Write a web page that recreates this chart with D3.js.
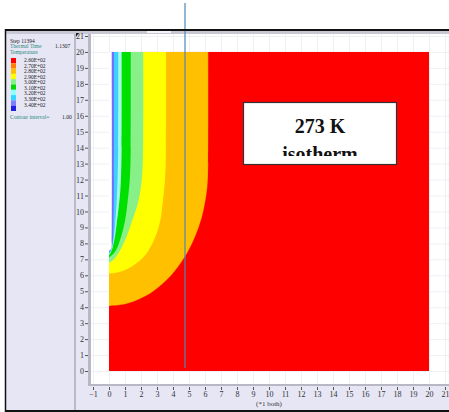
<!DOCTYPE html>
<html>
<head>
<meta charset="utf-8">
<script src="https://cdn.jsdelivr.net/npm/d3@7"></script>
<style>
  html, body { margin: 0; padding: 0; background: #fff; }
  svg { display: block; }
</style>
</head>
<body>
<svg id="chart" width="449" height="412"></svg>
<script>
// ---- data -------------------------------------------------------------
const xTicks = d3.range(-1, 22);          // -1 .. 21
const yTicks = d3.range(0, 22);           // 0 .. 21
const legendLevels = ["2.60E+02", "2.70E+02", "2.80E+02", "2.90E+02", "3.00E+02",
                      "3.10E+02", "3.20E+02", "3.30E+02", "3.40E+02"];
const legendColors = ["#ff0000", "#ff8000", "#ffc000", "#ffff00", "#88f088",
                      "#00d800", "#90ffff", "#30d8ff", "#8080ff", "#2020e0"];
const domainBox = { x0: 0, x1: 20, y0: 0, y1: 20 };
// band fills, outermost (coldest) to innermost
const bandColors = ["#ff0000", "#ffc000", "#ffff00", "#88f088", "#00e000",
                    "#a8ffe8", "#40d0ff", "#7070ff", "#ffffff"];
// isotherm boundaries, each from the top edge down to the left edge (x, y)
const isoRed = [[6.2,20],[6.2,13],[6.14,11.5],[5.89,10],[5.6,9],[5.19,8],[4.64,7],[3.89,6],[2.77,5],[1.87,4.5],[1.03,4.2],[0,4.08]];
const isoAmber = [[3.56,20],[3.56,14],[3.5,12],[3.35,10.5],[3.2,9.4],[2.85,8.3],[2.3,7.3],[1.5,6.6],[0.7,6.22],[0,6.1]];
const isoYellow = [[2.14,20],[2.14,15],[2.05,12],[1.8,10.5],[1.44,9.4],[1.05,8.3],[0.6,7.4],[0.25,6.95],[0,6.8]];
const isoLightGreen = [[1.36,20],[1.36,14],[1.3,12],[1.15,10.5],[1.0,9.4],[0.75,8.4],[0.4,7.5],[0,7.1]];
const isoGreen = [[0.79,20],[0.79,14],[0.72,11.5],[0.6,10.2],[0.5,9.4],[0.35,8.3],[0.15,7.5],[0,7.25]];
const isoPale = [[0.58,20],[0.58,14],[0.5,11],[0.4,9.4],[0.28,8.2],[0.12,7.5],[0,7.35]];
const isoCyan = [[0.31,20],[0.31,12],[0.28,9.4],[0.22,8],[0.1,7.55],[0,7.45]];
const isoBlue = [[0.17,20],[0.17,8],[0.15,7.68],[0.06,7.57],[0,7.55]];
const isotherms = [isoRed, isoAmber, isoYellow, isoLightGreen, isoGreen, isoPale, isoCyan, isoBlue];
const profileX = 4.75;   // vertical profile line position

// ---- scales -----------------------------------------------------------
const x = d3.scaleLinear().domain([-1, 21]).range([93, 445]);
const y = d3.scaleLinear().domain([0, 21]).range([371, 36]);

const svg = d3.select("#chart");
const serif = "'Liberation Serif', 'DejaVu Serif', serif";

// ---- frame ------------------------------------------------------------
svg.append("rect").attr("x", 6).attr("y", 30).attr("width", 443).attr("height", 381)
  .attr("fill", "#e6e6f4");
svg.append("rect").attr("x", 90).attr("y", 34).attr("width", 359).attr("height", 351)
  .attr("fill", "#ffffff");
// faint grid
const grid = svg.append("g").attr("stroke", "#eef0f4").attr("stroke-width", 1);
grid.selectAll("line.h").data(yTicks).join("line")
  .attr("x1", 91).attr("x2", 449).attr("y1", d => y(d) + 0.5).attr("y2", d => y(d) + 0.5);
grid.selectAll("line.v").data(xTicks).join("line")
  .attr("y1", 34).attr("y2", 385).attr("x1", d => x(d) + 0.5).attr("x2", d => x(d) + 0.5);

// ---- contour bands ----------------------------------------------------
const plot = svg.append("g");
plot.append("rect")
  .attr("x", x(domainBox.x0)).attr("y", y(domainBox.y1))
  .attr("width", x(domainBox.x1) - x(domainBox.x0))
  .attr("height", y(domainBox.y0) - y(domainBox.y1))
  .attr("fill", bandColors[0]);
const iso = d3.line().x(d => x(d[0])).y(d => y(d[1])).curve(d3.curveCatmullRom.alpha(0.5));
plot.selectAll("path.band").data(isotherms).join("path")
  .attr("class", "band")
  .attr("d", d => iso(d) + `L${x(0)},${y(20)}Z`)
  .attr("fill", (d, i) => bandColors[i + 1]);
// soft edge on the outer isotherm
plot.append("path").attr("d", iso(isoRed)).attr("fill", "none")
  .attr("stroke", "#e84000").attr("stroke-width", 0.7).attr("opacity", 0.35);

// ---- axes -------------------------------------------------------------
svg.append("line").attr("x1", 75).attr("x2", 75).attr("y1", 30).attr("y2", 411)
  .attr("stroke", "#8c8c9c").attr("stroke-width", 1);
svg.append("rect").attr("x", 88).attr("y", 34).attr("width", 3).attr("height", 352)
  .attr("fill", "#b8b8c4");
svg.append("rect").attr("x", 88).attr("y", 384).attr("width", 361).attr("height", 2)
  .attr("fill", "#b8b8c4");
svg.append("rect").attr("x", 6).attr("y", 31).attr("width", 443).attr("height", 3)
  .attr("fill", "#c8c8d4");
svg.append("rect").attr("x", 147).attr("y", 31).attr("width", 24).attr("height", 2)
  .attr("fill", "#f4f4f8");

const yAxis = svg.append("g").attr("transform", "translate(88,0)")
  .call(d3.axisLeft(y).tickValues(yTicks).tickSize(3).tickPadding(1).tickFormat(d3.format("d")));
const xAxis = svg.append("g").attr("transform", "translate(0,387)")
  .call(d3.axisBottom(x).tickValues(xTicks).tickSize(3).tickPadding(1).tickFormat(d3.format("d")));
[yAxis, xAxis].forEach(a => {
  a.select(".domain").remove();
  a.selectAll(".tick line").attr("stroke", "#555");
  a.selectAll(".tick text").attr("fill", "#333").attr("font-family", serif).attr("font-size", 8);
});
svg.append("text").attr("x", x(10)).attr("y", 406).attr("text-anchor", "middle")
  .attr("font-family", serif).attr("font-size", 7).attr("fill", "#333").text("(*1 both)");

// ---- profile line -----------------------------------------------------
svg.append("line").attr("x1", x(profileX)).attr("x2", x(profileX))
  .attr("y1", 3).attr("y2", y(0) - 3)
  .attr("stroke", "#4f86b8").attr("stroke-width", 1.2);

// ---- outer border -----------------------------------------------------
svg.append("line").attr("x1", 5).attr("x2", 449).attr("y1", 30).attr("y2", 30)
  .attr("stroke", "#111").attr("stroke-width", 2);
svg.append("line").attr("x1", 5.5).attr("x2", 5.5).attr("y1", 29).attr("y2", 412)
  .attr("stroke", "#111").attr("stroke-width", 1.5);
svg.append("line").attr("x1", 5).attr("x2", 449).attr("y1", 411).attr("y2", 411)
  .attr("stroke", "#111").attr("stroke-width", 2);

// ---- legend -----------------------------------------------------------
const lg = svg.append("g").attr("font-family", serif).attr("font-size", 5.5);
lg.append("text").attr("x", 10).attr("y", 43).attr("fill", "#222").text("Step 11394");
lg.append("text").attr("x", 10).attr("y", 48).attr("fill", "#2a8a7a").text("Thermal Time");
lg.append("text").attr("x", 55).attr("y", 48).attr("fill", "#222").text("1.1307");
lg.append("text").attr("x", 10).attr("y", 54).attr("fill", "#2a8a7a").text("Temperature");
const swH = 5.3;
lg.selectAll("rect.sw").data(legendColors).join("rect")
  .attr("x", 11).attr("y", (d, i) => 58 + i * swH).attr("width", 5).attr("height", swH)
  .attr("fill", d => d);
lg.selectAll("text.lv").data(legendLevels).join("text")
  .attr("x", 24).attr("y", (d, i) => 62 + i * swH * 1.05).attr("fill", "#222").text(d => d);
lg.append("text").attr("x", 10).attr("y", 119).attr("fill", "#2a8a7a").text("Contour interval=");
lg.append("text").attr("x", 62).attr("y", 119).attr("fill", "#222").text("1.00");
// corner marker by the y axis
svg.append("path").attr("d", "M76,33 L79,33 L76,37 Z").attr("fill", "#222");

// ---- annotation box ---------------------------------------------------
const clip = svg.append("defs").append("clipPath").attr("id", "boxclip");
clip.append("rect").attr("x", 243).attr("y", 102).attr("width", 154).attr("height", 54);
svg.append("rect").attr("x", 243.5).attr("y", 102.5).attr("width", 153).attr("height", 62)
  .attr("fill", "#fff").attr("stroke", "#333").attr("stroke-width", 1.2);
const ann = svg.append("g").attr("clip-path", "url(#boxclip)")
  .attr("font-family", serif).attr("font-weight", "bold").attr("font-size", 20)
  .attr("text-anchor", "middle").attr("fill", "#111");
ann.append("text").attr("x", 320).attr("y", 133).text("273 K");
ann.append("text").attr("x", 320).attr("y", 161).text("isotherm");
</script>
</body>
</html>
